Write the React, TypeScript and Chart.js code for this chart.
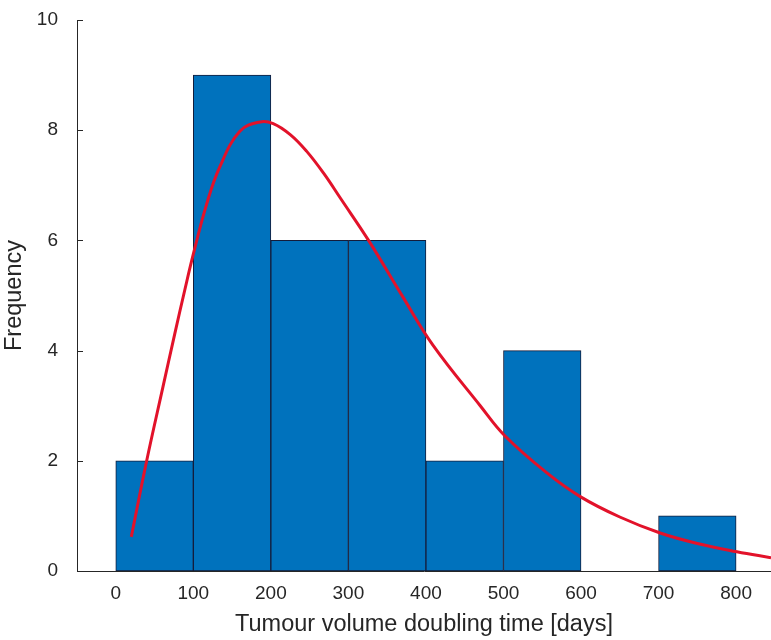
import React, { useEffect, useRef } from "react";
import { Chart, registerables } from "chart.js";

Chart.register(...registerables);

// Histogram bins (centres, days) and counts
const binCenters = [50, 150, 250, 350, 450, 550, 650, 750];
const binCounts = [2, 9, 6, 6, 2, 4, 0, 1];

// Fitted distribution curve
const curveX = [20, 40, 61, 76, 89, 100, 117, 134, 160, 186, 203, 225, 246, 268, 290, 326, 370, 409, 470, 502, 556, 599, 650, 702, 750, 801, 845];
const curveY = [0.62, 2.01, 3.35, 4.3, 5.1, 5.75, 6.65, 7.33, 7.98, 8.15, 8.12, 7.92, 7.62, 7.22, 6.76, 6.0, 4.98, 4.1, 3.0, 2.45, 1.78, 1.35, 0.98, 0.69, 0.5, 0.35, 0.24];

const xTicks = [0, 100, 200, 300, 400, 500, 600, 700, 800];
const yTicks = [0, 2, 4, 6, 8, 10];

const xTitle = "Tumour volume doubling time [days]";
const yTitle = "Frequency";

const FONT = "'Liberation Sans', Arial, Helvetica, sans-serif";
const AXIS_COLOR = "#262626";

const inwardTicks = {
  id: "inwardTicks",
  afterDraw(chart: any) {
    const ctx = chart.ctx;
    const y = chart.scales.y;
    const left = chart.chartArea.left;
    ctx.save();
    ctx.strokeStyle = AXIS_COLOR;
    ctx.lineWidth = 1;
    ctx.beginPath();
    for (const t of yTicks) {
      if (t === 0) continue;
      const py = Math.round(y.getPixelForValue(t)) + 0.5;
      ctx.moveTo(left, py);
      ctx.lineTo(left + 6, py);
    }
    ctx.stroke();
    ctx.restore();
  },
};

export default function App() {
  const ref = useRef<HTMLCanvasElement>(null);
  useEffect(() => {
    if (!ref.current) return;
    const chart = new Chart(ref.current, {
      type: "bar",
      data: {
        datasets: [
          {
            type: "line",
            data: curveX.map((x, i) => ({ x, y: curveY[i] })),
            borderColor: "rgb(226,18,42)",
            borderWidth: 3,
            pointRadius: 0,
            tension: 0.4,
            fill: false,
            order: 0,
          } as any,
          {
            type: "bar",
            data: binCenters.map((x, i) => ({ x, y: binCounts[i] })),
            backgroundColor: "#0072BD",
            borderColor: "#141c3a",
            borderWidth: 1,
            borderSkipped: false,
            barPercentage: 1,
            categoryPercentage: 1,
            order: 1,
          } as any,
        ],
      },
      options: {
        responsive: false,
        animation: false,
        layout: { padding: { left: 0, right: 0, top: 20, bottom: 0 } },
        plugins: { legend: { display: false }, tooltip: { enabled: false } },
        scales: {
          x: {
            type: "linear",
            min: -50,
            max: 845,
            offset: false,
            grid: { display: false, drawTicks: false, offset: false },
            border: { display: true, color: AXIS_COLOR, width: 1 },
            afterBuildTicks: (scale: any) => {
              scale.ticks = xTicks.map((v) => ({ value: v }));
            },
            afterFit: (scale: any) => {
              scale.height = 69;
              scale.paddingLeft = 0;
              scale.paddingRight = 0;
            },
            ticks: {
              padding: 11,
              color: AXIS_COLOR,
              font: { family: FONT, size: 19 },
              maxRotation: 0,
              autoSkip: false,
            },
            title: {
              display: true,
              text: xTitle,
              color: AXIS_COLOR,
              font: { family: FONT, size: 23.5 },
              padding: { top: 0, bottom: 1 },
            },
          },
          y: {
            type: "linear",
            min: 0,
            max: 10,
            grid: { display: false, drawTicks: false },
            border: { display: true, color: AXIS_COLOR, width: 1 },
            afterBuildTicks: (scale: any) => {
              scale.ticks = yTicks.map((v) => ({ value: v }));
            },
            afterFit: (scale: any) => {
              scale.width = 77;
              scale.paddingTop = 0;
              scale.paddingBottom = 0;
            },
            ticks: {
              padding: 19,
              color: AXIS_COLOR,
              font: { family: FONT, size: 19 },
            },
            title: {
              display: true,
              text: yTitle,
              color: AXIS_COLOR,
              font: { family: FONT, size: 23.5 },
              padding: { top: 0, bottom: 8 },
            },
          },
        },
      },
      plugins: [inwardTicks],
    });
    return () => chart.destroy();
  }, []);
  return (
    <div style={{ position: "fixed", left: 0, top: 0, width: 771, height: 640, background: "#fff" }}>
      <canvas ref={ref} width={771} height={640} style={{ display: "block" }} />
    </div>
  );
}
